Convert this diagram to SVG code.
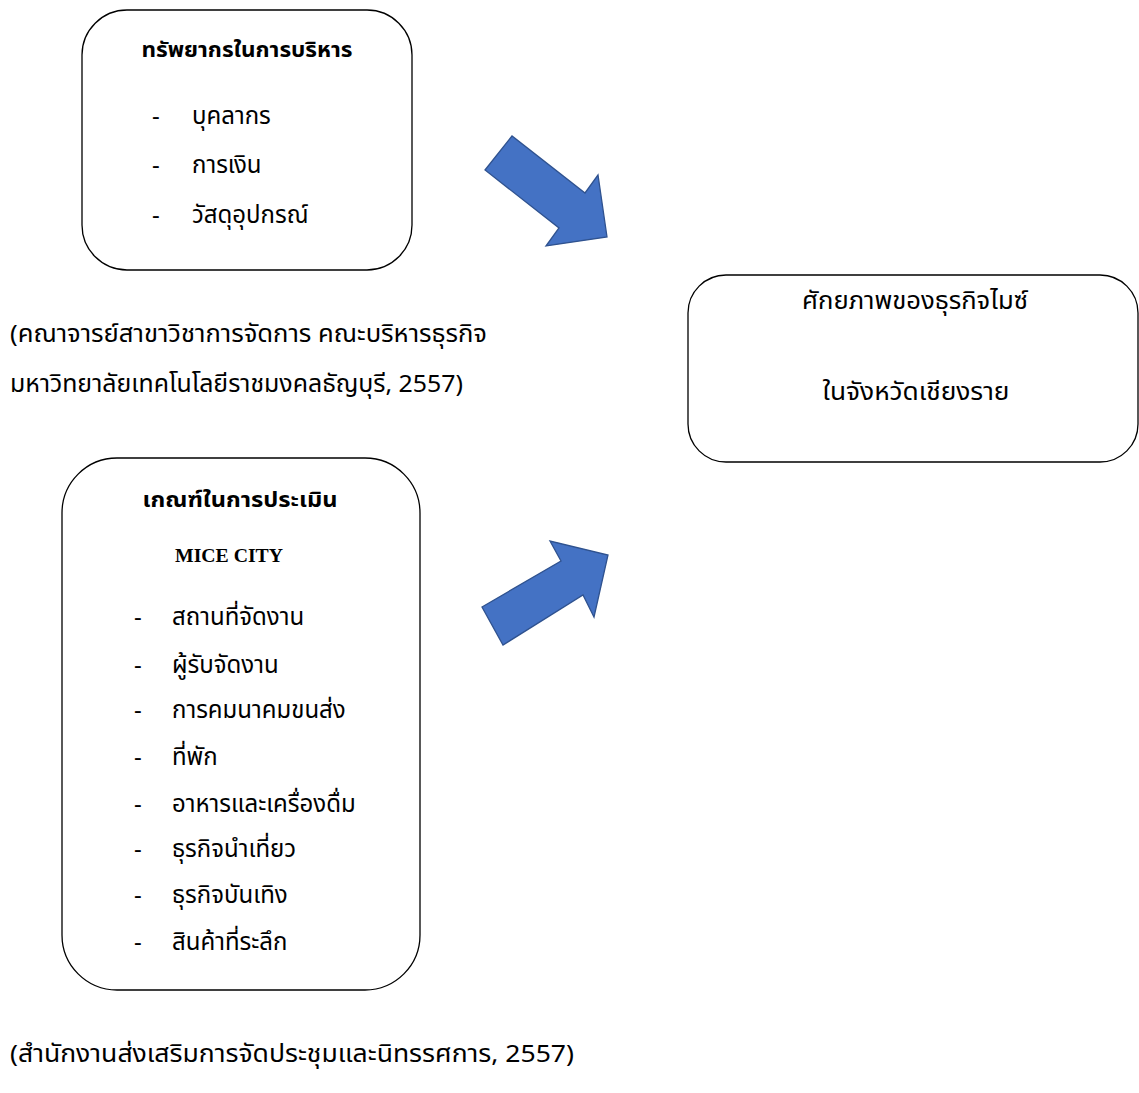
<svg xmlns="http://www.w3.org/2000/svg" width="1139" height="1093" viewBox="0 0 1139 1093">
<style>
.box{fill:#fff;stroke:#000;stroke-width:1.3}
.arr{fill:#4472C4;stroke:#2F528F;stroke-width:1.3;stroke-linejoin:miter}
.t{font-family:"Noto Sans Thai","Noto Sans","DejaVu Sans",sans-serif;fill:#000}
.h{font-size:22px;font-weight:bold}
.i{font-size:24px}
.c{font-size:24px}
.r{font-size:25px}
.m{font-family:"Liberation Serif",serif;font-size:19px;font-weight:bold}
</style>
<rect width="1139" height="1093" fill="#fff"/>
<g id="node-resources">
<rect class="box" x="82" y="10" width="330" height="260" rx="45" ry="45"/>
<text class="t h" x="247" y="57" text-anchor="middle" textLength="211" lengthAdjust="spacingAndGlyphs">ทรัพยากรในการบริหาร</text>
<text class="t i" x="152" y="124">-</text><text class="t i" x="192" y="124">บุคลากร</text>
<text class="t i" x="152" y="173">-</text><text class="t i" x="192" y="173">การเงิน</text>
<text class="t i" x="152" y="223">-</text><text class="t i" x="192" y="223">วัสดุอุปกรณ์</text>
</g>
<g id="node-potential">
<rect class="box" x="688" y="275" width="450" height="187" rx="38" ry="38"/>
<text class="t r" x="915" y="309" text-anchor="middle" textLength="226" lengthAdjust="spacingAndGlyphs">ศักยภาพของธุรกิจไมซ์</text>
<text class="t r" x="916" y="400" text-anchor="middle" textLength="187" lengthAdjust="spacingAndGlyphs">ในจังหวัดเชียงราย</text>
</g>
<g id="node-criteria">
<rect class="box" x="62" y="458" width="358" height="532" rx="55" ry="55"/>
<text class="t h" x="240" y="507" text-anchor="middle" textLength="195" lengthAdjust="spacingAndGlyphs">เกณฑ์ในการประเมิน</text>
<text class="m" x="229" y="562" text-anchor="middle" textLength="108" lengthAdjust="spacingAndGlyphs">MICE CITY</text>
<text class="t i" x="134" y="625">-</text><text class="t i" x="172" y="625">สถานที่จัดงาน</text>
<text class="t i" x="134" y="673">-</text><text class="t i" x="172" y="673">ผู้รับจัดงาน</text>
<text class="t i" x="134" y="718">-</text><text class="t i" x="172" y="718">การคมนาคมขนส่ง</text>
<text class="t i" x="134" y="765">-</text><text class="t i" x="172" y="765">ที่พัก</text>
<text class="t i" x="134" y="812">-</text><text class="t i" x="172" y="812">อาหารและเครื่องดื่ม</text>
<text class="t i" x="134" y="857">-</text><text class="t i" x="172" y="857">ธุรกิจนำเที่ยว</text>
<text class="t i" x="134" y="903">-</text><text class="t i" x="172" y="903">ธุรกิจบันเทิง</text>
<text class="t i" x="134" y="950">-</text><text class="t i" x="172" y="950">สินค้าที่ระลึก</text>
</g>
<g id="connectors">
<polygon class="arr" points="485,170 512,136 585,193 598,175 607,237 546,246 559,228"/>
<polygon class="arr" points="482,607 561,561 550,541 608,555 594,617 583,595 503,645"/>
</g>
<g id="citations">
<text class="t c" x="10" y="342" textLength="477" lengthAdjust="spacingAndGlyphs">(คณาจารย์สาขาวิชาการจัดการ คณะบริหารธุรกิจ</text>
<text class="t c" x="10" y="392" textLength="453" lengthAdjust="spacingAndGlyphs">มหาวิทยาลัยเทคโนโลยีราชมงคลธัญบุรี, 2557)</text>
<text class="t c" x="10" y="1062" textLength="564" lengthAdjust="spacingAndGlyphs">(สำนักงานส่งเสริมการจัดประชุมและนิทรรศการ, 2557)</text>
</g>
</svg>
